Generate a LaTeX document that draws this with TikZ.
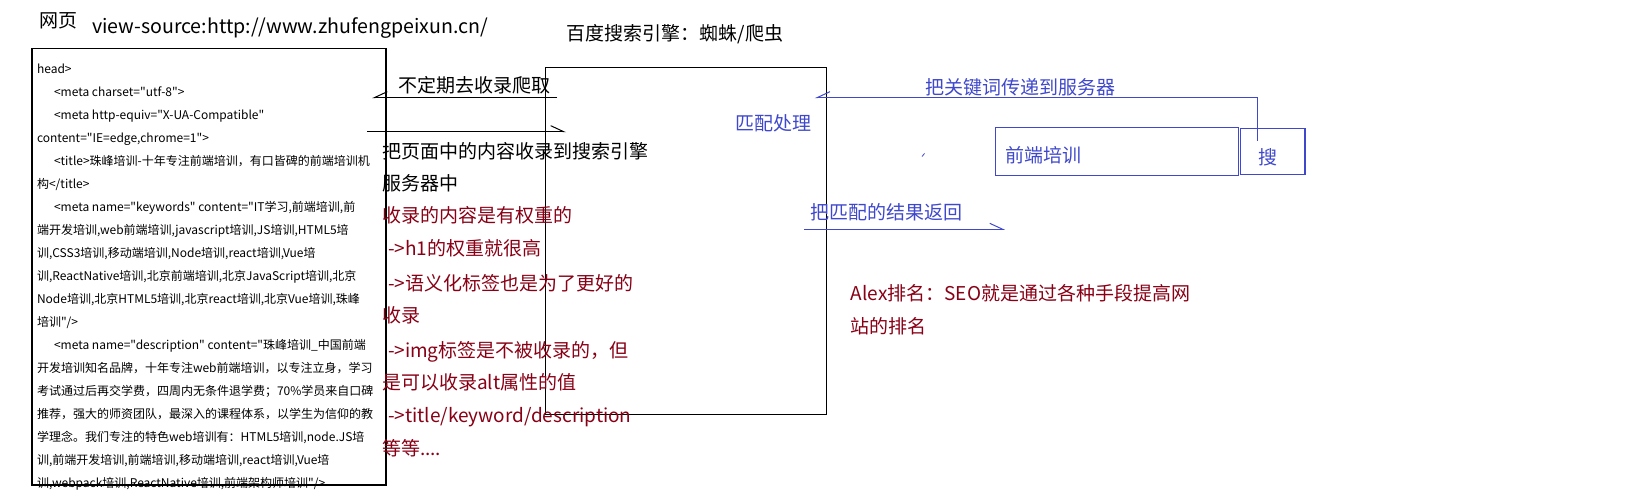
\documentclass[tikz,border=0pt]{standalone}
\usepackage{fontspec}
\setmainfont{Noto Sans CJK SC}[Ligatures=TeXOff]
\usetikzlibrary{arrows.meta}
\definecolor{dred}{RGB}{136,0,21}
\definecolor{pblue}{RGB}{63,72,204}
\newcommand\fsbig{\fontsize{19pt}{19pt}\selectfont}
\newcommand\fsurl{\fontsize{19.6pt}{19.6pt}\selectfont}
\newcommand\fssmall{\fontsize{12pt}{12pt}\selectfont}
\begin{document}
\begin{tikzpicture}[x=1pt,y=-1pt,
  every node/.style={inner sep=0pt, outer sep=0pt},
  big/.style={font=\fsbig, anchor=base west},
  src/.style={font=\fssmall, anchor=base west},
  frame/.style={draw, line width=1.2pt},
  harpR/.style={-{Straight Barb[left,length=13pt,width=12pt]}, line width=1pt},
  harpL/.style={-{Straight Barb[right,length=13pt,width=12pt]}, line width=1pt},
]
\useasboundingbox (0,0) rectangle (1648,498);

% boxes
\draw[frame] (32,48.5) rectangle (386,485);
\coordinate (srcbox) at (386,266);
\draw[frame] (545.5,67.3) rectangle (826.5,414.3);
\coordinate (engine) at (545.5,240);
\node[draw=pblue, line width=1.2pt, anchor=north west, minimum width=243pt, minimum height=47.6pt] (inputbox) at (995.4,127.7) {};
\node[draw=pblue, line width=1.2pt, anchor=north west, minimum width=64.5pt, minimum height=46pt] (searchbtn) at (1240.5,128.3) {};

% titles
\node[big] (page) at (39,27.3) {网页};
\node[big, font=\fsurl] (url) at (92,33) {view-source:http://www.zhufengpeixun.cn/};
\node[big] (baidu) at (566.7,40.5) {百度搜索引擎：蜘蛛/爬虫};

% source lines
\node[src] (s0) at (37,73.6) {head>};
\node[src] (s1) at (54,96.6) {<meta charset="utf-8">};
\node[src] (s2) at (54,119.6) {<meta http-equiv="X-UA-Compatible"};
\node[src] (s3) at (37,142.6) {content="IE=edge,chrome=1">};
\node[src] (s4) at (54,165.6) {<title>珠峰培训-十年专注前端培训，有口皆碑的前端培训机};
\node[src] (s5) at (37,188.6) {构</title>};
\node[src] (s6) at (54,211.6) {<meta name="keywords" content="IT学习,前端培训,前};
\node[src] (s7) at (37,234.6) {端开发培训,web前端培训,javascript培训,JS培训,HTML5培};
\node[src] (s8) at (37,257.6) {训,CSS3培训,移动端培训,Node培训,react培训,Vue培};
\node[src] (s9) at (37,280.6) {训,ReactNative培训,北京前端培训,北京JavaScript培训,北京};
\node[src] (s10) at (37,303.6) {Node培训,北京HTML5培训,北京react培训,北京Vue培训,珠峰};
\node[src] (s11) at (37,326.6) {培训"/>};
\node[src] (s12) at (54,349.6) {<meta name="description" content="珠峰培训\_中国前端};
\node[src] (s13) at (37,372.6) {开发培训知名品牌，十年专注web前端培训，以专注立身，学习};
\node[src] (s14) at (37,395.6) {考试通过后再交学费，四周内无条件退学费；70\%学员来自口碑};
\node[src] (s15) at (37,418.6) {推荐，强大的师资团队，最深入的课程体系，以学生为信仰的教};
\node[src] (s16) at (37,441.6) {学理念。我们专注的特色web培训有：HTML5培训,node.JS培};
\node[src] (s17) at (37,464.6) {训,前端开发培训,前端培训,移动端培训,react培训,Vue培};
\node[src] (s18) at (37,487.6) {训,webpack培训,ReactNative培训,前端架构师培训"/>};

% crawl arrows
\node[big] (crawl) at (398,92) {不定期去收录爬取};
\coordinate (crawlS) at (557,97.7);
\coordinate (crawlT) at (372,97.7);
\draw[harpL] (crawlS) -- (crawlT);
\coordinate (storeS) at (367,131.7);
\coordinate (storeT) at (566,131.7);
\draw[harpR] (storeS) -- (storeT);

% notes
\node[big] (n1) at (382,158) {把页面中的内容收录到搜索引擎};
\node[big] (n2) at (382,190) {服务器中};
\node[big, text=dred] (n3) at (382,222) {收录的内容是有权重的};
\node[big, text=dred] (n4) at (388,255) {->h1的权重就很高};
\node[big, text=dred] (n5) at (388,290) {->语义化标签也是为了更好的};
\node[big, text=dred] (n6) at (382,322) {收录};
\node[big, text=dred] (n7) at (388,357) {->img标签是不被收录的，但};
\node[big, text=dred] (n8) at (382,389) {是可以收录alt属性的值};
\node[big, text=dred] (n9) at (388,422) {->title/keyword/description};
\node[big, text=dred] (n10) at (382,455) {等等....};

% right side
\node[big, text=pblue] (match) at (735.6,130.5) {匹配处理};
\node[big, text=pblue] (kw) at (925,94) {把关键词传递到服务器};
\node[big, text=pblue] (query) at (1005.7,162) {前端培训};
\node[big, text=pblue] (sou) at (1258,164) {搜};
\node[big, text=pblue] (ret) at (810,219.5) {把匹配的结果返回};
\coordinate (kwS) at (1257.5,140.7);
\coordinate (kwT) at (814.7,97.7);
\draw[pblue, harpL] (kwS) |- (kwT);
\coordinate (retS) at (804,229.3);
\coordinate (retT) at (1005,229.3);
\draw[pblue, harpR] (retS) -- (retT);
\draw[pblue, line width=0.8pt] (922,156.5) -- (924.5,153.5);

\node[big, text=dred] (alex1) at (850.7,300.5) {Alex排名：SEO就是通过各种手段提高网};
\node[big, text=dred] (alex2) at (850.7,333) {站的排名};
\end{tikzpicture}
\end{document}
